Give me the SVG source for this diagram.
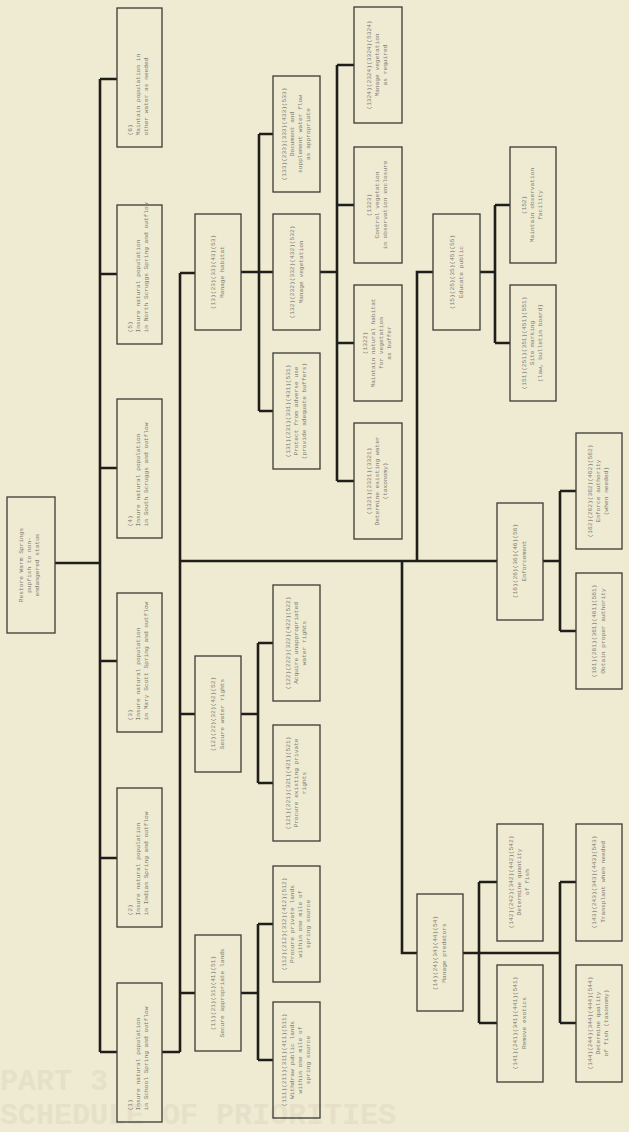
<svg xmlns="http://www.w3.org/2000/svg" width="629" height="1132" viewBox="0 0 629 1132">
<style>
.bg{fill:#efead2}
.box{fill:none;stroke:#3a3a34;stroke-width:1.3}
.ln{fill:none;stroke:#1e1e1a;stroke-width:2.6}
text{font-family:"Liberation Mono","DejaVu Sans Mono",monospace;font-size:6.2px;fill:#7c7c72}
.c{text-anchor:middle}
.s{text-anchor:start}
.ghost{font-family:"Liberation Mono",monospace;font-weight:bold;font-size:30px;fill:#e6e0c9;text-anchor:start}
</style>
<rect class="bg" x="0" y="0" width="629" height="1132"/>
<text class="ghost" x="0" y="1090">PART 3</text>
<text class="ghost" x="0" y="1124">SCHEDULE OF PRIORITIES</text>

<g id="connectors">
<path class="ln" d="M55,563H100M100,79V1052M100,79H117M100,274H117M100,468H117M100,661H117M100,858H117M100,1052H117"/>
<path class="ln" d="M162,1052H180M180,273V1052M180,273H195M180,561H497M180,714H195M180,993H195"/>
<path class="ln" d="M241,272H259M259,134V411M259,134H273M259,272H273M259,411H273"/>
<path class="ln" d="M320,272H337M337,65V481M337,65H354M337,205H354M337,343H354M337,481H354"/>
<path class="ln" d="M241,714H258M258,643V783M258,643H273M258,783H273"/>
<path class="ln" d="M241,993H258M258,924V1060M258,924H273M258,1060H273"/>
<path class="ln" d="M417,561V272H433M480,272H495M495,205V343M495,205H510M495,343H510"/>
<path class="ln" d="M402,561V953H417M463,953H560M479,882V1023M479,882H497M479,1023H497M560,882V1023M560,882H576M560,1023H576"/>
<path class="ln" d="M543,561H560M560,491V631M560,491H576M560,631H576"/>
</g>

<g id="root"><rect class="box" x="7" y="497" width="48" height="136"/>
<text class="c" transform="translate(31,565) rotate(-90)"><tspan x="0" y="-8">Restore Warm Springs</tspan><tspan x="0" y="0">pupfish to non-</tspan><tspan x="0" y="8">endangered status</tspan></text></g>

<g id="n6"><rect class="box" x="117" y="8" width="45" height="139"/>
<text class="s" transform="translate(139.5,77.5) rotate(-90)"><tspan x="-58" y="-8">(6)</tspan><tspan x="-58" y="0">Maintain population in</tspan><tspan x="-58" y="8">other water as needed</tspan></text></g>
<g id="n5"><rect class="box" x="117" y="205" width="45" height="139"/>
<text class="s" transform="translate(139.5,274.5) rotate(-90)"><tspan x="-58" y="-8">(5)</tspan><tspan x="-58" y="0">Insure natural population</tspan><tspan x="-58" y="8">in North Scruggs Spring and outflow</tspan></text></g>
<g id="n4"><rect class="box" x="117" y="399" width="45" height="139"/>
<text class="s" transform="translate(139.5,468.5) rotate(-90)"><tspan x="-58" y="-8">(4)</tspan><tspan x="-58" y="0">Insure natural population</tspan><tspan x="-58" y="8">in South Scruggs and outflow</tspan></text></g>
<g id="n3"><rect class="box" x="117" y="593" width="45" height="139"/>
<text class="s" transform="translate(139.5,662.5) rotate(-90)"><tspan x="-58" y="-8">(3)</tspan><tspan x="-58" y="0">Insure natural population</tspan><tspan x="-58" y="8">in Mary Scott Spring and outflow</tspan></text></g>
<g id="n2"><rect class="box" x="117" y="788" width="45" height="139"/>
<text class="s" transform="translate(139.5,857.5) rotate(-90)"><tspan x="-58" y="-8">(2)</tspan><tspan x="-58" y="0">Insure natural population</tspan><tspan x="-58" y="8">in Indian Spring and outflow</tspan></text></g>
<g id="n1"><rect class="box" x="117" y="983" width="45" height="139"/>
<text class="s" transform="translate(139.5,1052.5) rotate(-90)"><tspan x="-58" y="-8">(1)</tspan><tspan x="-58" y="0">Insure natural population</tspan><tspan x="-58" y="8">in School Spring and outflow</tspan></text></g>

<g id="habitat"><rect class="box" x="195" y="214" width="46" height="116"/>
<text class="c" transform="translate(218,272) rotate(-90)"><tspan x="0" y="-3">(13)(23)(33)(43)(53)</tspan><tspan x="0" y="6">Manage habitat</tspan></text></g>
<g id="water"><rect class="box" x="195" y="656" width="46" height="116"/>
<text class="c" transform="translate(218,714) rotate(-90)"><tspan x="0" y="-3">(12)(22)(32)(42)(52)</tspan><tspan x="0" y="6">Secure water rights</tspan></text></g>
<g id="lands"><rect class="box" x="195" y="935" width="46" height="116"/>
<text class="c" transform="translate(218,993) rotate(-90)"><tspan x="0" y="-3">(11)(21)(31)(41)(51)</tspan><tspan x="0" y="6">Secure appropriate lands</tspan></text></g>

<g id="flow"><rect class="box" x="273" y="76" width="47" height="116"/>
<text class="c" transform="translate(296.5,134) rotate(-90)"><tspan x="0" y="-11">(133)(233)(333)(433)(533)</tspan><tspan x="0" y="-3">Document and</tspan><tspan x="0" y="5">supplement water flow</tspan><tspan x="0" y="13">as appropriate</tspan></text></g>
<g id="veg"><rect class="box" x="273" y="214" width="47" height="116"/>
<text class="c" transform="translate(296.5,272) rotate(-90)"><tspan x="0" y="-3">(132)(232)(332)(432)(532)</tspan><tspan x="0" y="6">Manage vegetation</tspan></text></g>
<g id="protect"><rect class="box" x="273" y="353" width="47" height="116"/>
<text class="c" transform="translate(296.5,411) rotate(-90)"><tspan x="0" y="-7">(131)(231)(331)(431)(531)</tspan><tspan x="0" y="1">Protect from adverse use</tspan><tspan x="0" y="9">(provide adequate buffers)</tspan></text></g>
<g id="wr2"><rect class="box" x="273" y="585" width="47" height="116"/>
<text class="c" transform="translate(296.5,643) rotate(-90)"><tspan x="0" y="-7">(122)(222)(322)(422)(522)</tspan><tspan x="0" y="1">Acquire unappropriated</tspan><tspan x="0" y="9">water rights</tspan></text></g>
<g id="wr1"><rect class="box" x="273" y="725" width="47" height="116"/>
<text class="c" transform="translate(296.5,783) rotate(-90)"><tspan x="0" y="-7">(121)(221)(321)(421)(521)</tspan><tspan x="0" y="1">Procure existing private</tspan><tspan x="0" y="9">rights</tspan></text></g>
<g id="l2"><rect class="box" x="273" y="866" width="47" height="116"/>
<text class="c" transform="translate(296.5,924) rotate(-90)"><tspan x="0" y="-11">(112)(212)(312)(412)(512)</tspan><tspan x="0" y="-3">Procure private lands</tspan><tspan x="0" y="5">within one mile of</tspan><tspan x="0" y="13">spring source</tspan></text></g>
<g id="l1"><rect class="box" x="273" y="1002" width="47" height="116"/>
<text class="c" transform="translate(296.5,1060) rotate(-90)"><tspan x="0" y="-11">(111)(211)(311)(411)(511)</tspan><tspan x="0" y="-3">Withdraw public lands</tspan><tspan x="0" y="5">within one mile of</tspan><tspan x="0" y="13">spring source</tspan></text></g>

<g id="v1"><rect class="box" x="354" y="7" width="48" height="116"/>
<text class="c" transform="translate(378,65) rotate(-90)"><tspan x="0" y="-7">(1324)(2324)(3324)(5324)</tspan><tspan x="0" y="1">Manage vegetation</tspan><tspan x="0" y="9">as required</tspan></text></g>
<g id="v2"><rect class="box" x="354" y="147" width="48" height="116"/>
<text class="c" transform="translate(378,205) rotate(-90)"><tspan x="0" y="-7">(1323)</tspan><tspan x="0" y="1">Control vegetation</tspan><tspan x="0" y="9">in observation enclosure</tspan></text></g>
<g id="v3"><rect class="box" x="354" y="285" width="48" height="116"/>
<text class="c" transform="translate(378,343) rotate(-90)"><tspan x="0" y="-11">(1322)</tspan><tspan x="0" y="-3">Maintain natural habitat</tspan><tspan x="0" y="5">for vegetation</tspan><tspan x="0" y="13">as buffer</tspan></text></g>
<g id="v4"><rect class="box" x="354" y="423" width="48" height="116"/>
<text class="c" transform="translate(378,481) rotate(-90)"><tspan x="0" y="-7">(1321)(2321)(3321)</tspan><tspan x="0" y="1">Determine existing water</tspan><tspan x="0" y="9">(taxonomy)</tspan></text></g>

<g id="educate"><rect class="box" x="433" y="214" width="47" height="116"/>
<text class="c" transform="translate(456.5,272) rotate(-90)"><tspan x="0" y="-3">(15)(25)(35)(45)(55)</tspan><tspan x="0" y="6">Educate public</tspan></text></g>
<g id="e2"><rect class="box" x="510" y="147" width="46" height="116"/>
<text class="c" transform="translate(533,205) rotate(-90)"><tspan x="0" y="-7">(152)</tspan><tspan x="0" y="1">Maintain observation</tspan><tspan x="0" y="9">facility</tspan></text></g>
<g id="e1"><rect class="box" x="510" y="285" width="46" height="116"/>
<text class="c" transform="translate(533,343) rotate(-90)"><tspan x="0" y="-7">(151)(251)(351)(451)(551)</tspan><tspan x="0" y="1">Site marking</tspan><tspan x="0" y="9">(law, bulletin board)</tspan></text></g>

<g id="enforce"><rect class="box" x="497" y="503" width="46" height="117"/>
<text class="c" transform="translate(520,561) rotate(-90)"><tspan x="0" y="-3">(16)(26)(36)(46)(56)</tspan><tspan x="0" y="6">Enforcement</tspan></text></g>
<g id="f2"><rect class="box" x="576" y="433" width="46" height="116"/>
<text class="c" transform="translate(599,491) rotate(-90)"><tspan x="0" y="-7">(162)(262)(362)(462)(562)</tspan><tspan x="0" y="1">Enforce authority</tspan><tspan x="0" y="9">(when needed)</tspan></text></g>
<g id="f1"><rect class="box" x="576" y="573" width="46" height="116"/>
<text class="c" transform="translate(599,631) rotate(-90)"><tspan x="0" y="-3">(161)(261)(361)(461)(561)</tspan><tspan x="0" y="6">Obtain proper authority</tspan></text></g>

<g id="predators"><rect class="box" x="417" y="894" width="46" height="117"/>
<text class="c" transform="translate(440,953) rotate(-90)"><tspan x="0" y="-3">(14)(24)(34)(44)(54)</tspan><tspan x="0" y="6">Manage predators</tspan></text></g>
<g id="p2"><rect class="box" x="497" y="824" width="46" height="117"/>
<text class="c" transform="translate(520,882) rotate(-90)"><tspan x="0" y="-7">(142)(242)(342)(442)(542)</tspan><tspan x="0" y="1">Determine quantity</tspan><tspan x="0" y="9">of fish</tspan></text></g>
<g id="p1"><rect class="box" x="497" y="965" width="46" height="117"/>
<text class="c" transform="translate(520,1023) rotate(-90)"><tspan x="0" y="-3">(141)(241)(341)(441)(541)</tspan><tspan x="0" y="6">Remove exotics</tspan></text></g>
<g id="p3"><rect class="box" x="576" y="824" width="46" height="117"/>
<text class="c" transform="translate(599,882) rotate(-90)"><tspan x="0" y="-3">(143)(243)(343)(443)(543)</tspan><tspan x="0" y="6">Transplant when needed</tspan></text></g>
<g id="p4"><rect class="box" x="576" y="965" width="46" height="117"/>
<text class="c" transform="translate(599,1023) rotate(-90)"><tspan x="0" y="-7">(144)(244)(344)(444)(544)</tspan><tspan x="0" y="1">Determine quality</tspan><tspan x="0" y="9">of fish (taxonomy)</tspan></text></g>
</svg>
